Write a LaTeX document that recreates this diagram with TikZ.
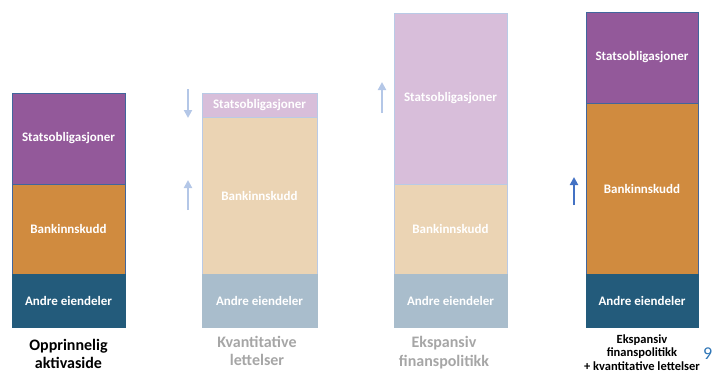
\documentclass[tikz,border=0pt]{standalone}
\usepackage{fontspec}
\setmainfont{Carlito}
\usetikzlibrary{arrows.meta}
\definecolor{purp}{HTML}{93599A}
\definecolor{orng}{HTML}{D08B3F}
\definecolor{navy}{HTML}{235B7B}
\definecolor{lpurp}{HTML}{D8BEDA}
\definecolor{lorng}{HTML}{EBD4B4}
\definecolor{lnavy}{HTML}{A9BDCC}
\definecolor{edgedark}{HTML}{41669C}
\definecolor{edgelight}{HTML}{B9CAE6}
\definecolor{arrlight}{HTML}{B4C7E7}
\definecolor{arrdark}{HTML}{4472C4}
\definecolor{lbgray}{HTML}{A6A6A6}
\definecolor{pagenum}{HTML}{2E75B6}
\begin{document}
\begin{tikzpicture}[x=1pt,y=-1pt,
  blk/.style={rectangle, inner sep=0pt, outer sep=0pt, line width=0.8pt,
    text=white, font=\fontsize{13}{15}\selectfont\bfseries},
  dk/.style={blk, draw=edgedark},
  lt/.style={blk, draw=edgelight},
  cap1/.style={align=center, inner sep=0pt, font=\fontsize{16}{18.5}\selectfont\bfseries},
  arrl/.style={draw=arrlight, line width=2.5pt, -{Triangle[width=8pt,length=8pt]}},
  arrd/.style={draw=arrdark, line width=2.5pt, -{Triangle[width=8pt,length=8pt]}}]
\useasboundingbox (0,0) rectangle (713,372);
\clip (0,0) rectangle (713,372);

% column 1
\node[dk, fill=purp, minimum width=113pt, minimum height=91pt] (s1) at (68.5,138.5) {Statsobligasjoner};
\node[dk, fill=orng, minimum width=113pt, minimum height=90pt] (b1) at (68.5,229) {Bankinnskudd};
\node[blk, fill=navy, draw=navy, minimum width=113pt, minimum height=53pt] (a1) at (68.5,300.5) {Andre eiendeler};
\node[cap1, text=black] (c1) at (68.5,354) {Opprinnelig\\aktivaside};

% column 2
\node[lt, fill=lpurp, minimum width=115pt, minimum height=24pt] (s2) at (259.5,105) {Statsobligasjoner};
\node[lt, fill=lorng, minimum width=115pt, minimum height=157pt] (b2) at (259.5,195.5) {Bankinnskudd};
\node[blk, fill=lnavy, draw=lnavy, minimum width=115pt, minimum height=53pt] (a2) at (259.5,300.5) {Andre eiendeler};
\node[cap1, text=lbgray] (c2) at (257,351) {Kvantitative\\lettelser};
\coordinate (d2a) at (188,89);
\coordinate (d2b) at (188,118);
\coordinate (u2a) at (188,210);
\coordinate (u2b) at (188,180);
\draw[arrl] (d2a) -- (d2b);
\draw[arrl] (u2a) -- (u2b);

% column 3
\node[lt, fill=lpurp, minimum width=113pt, minimum height=171pt] (s3) at (450.5,98.5) {Statsobligasjoner};
\node[lt, fill=lorng, minimum width=113pt, minimum height=90pt] (b3) at (450.5,229) {Bankinnskudd};
\node[blk, fill=lnavy, draw=lnavy, minimum width=113pt, minimum height=53pt] (a3) at (450.5,300.5) {Andre eiendeler};
\node[cap1, text=lbgray] (c3) at (444,352.5) {Ekspansiv\\finanspolitikk};
\coordinate (u3a) at (382,113);
\coordinate (u3b) at (382,82);
\draw[arrl] (u3a) -- (u3b);

% column 4
\node[dk, fill=purp, minimum width=112pt, minimum height=91pt] (s4) at (642,57.5) {Statsobligasjoner};
\node[dk, fill=orng, minimum width=112pt, minimum height=171pt] (b4) at (642,188.5) {Bankinnskudd};
\node[blk, fill=navy, draw=navy, minimum width=112pt, minimum height=53pt] (a4) at (642,300.5) {Andre eiendeler};
\node[align=center, inner sep=0pt, font=\fontsize{12.5}{13.5}\selectfont\bfseries, text=black, anchor=south] (c4) at (642,370.5) {Ekspansiv\\finanspolitikk\\+ kvantitative lettelser};
\coordinate (u4a) at (574,205);
\coordinate (u4b) at (574,177);
\draw[arrd] (u4a) -- (u4b);

% page number
\node[anchor=east, inner sep=0pt, text=pagenum, font=\fontsize{18}{20}\selectfont] (pg) at (712.5,354) {9};
\end{tikzpicture}
\end{document}
